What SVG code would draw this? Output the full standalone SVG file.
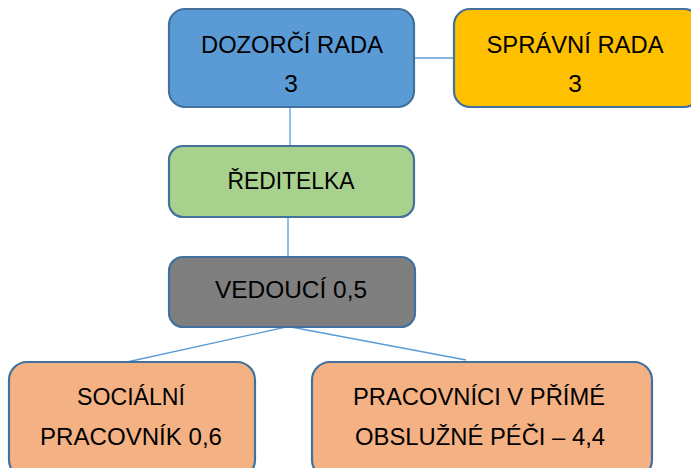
<svg xmlns="http://www.w3.org/2000/svg" width="691" height="468" viewBox="0 0 691 468">
<style>
.box{stroke:#41719C;stroke-width:2.2}
.t{font-family:"Liberation Sans",Arial,sans-serif;font-size:24.5px;fill:#000;text-anchor:middle}
.c{stroke:#5B9BD5;stroke-width:1.3;fill:none}
</style>
<rect width="691" height="468" fill="#fff"/>
<g id="connectors">
<line class="c" x1="414" y1="58" x2="453" y2="58"/>
<line class="c" x1="290" y1="107" x2="290" y2="146"/>
<line class="c" x1="288" y1="217" x2="288" y2="257"/>
<line class="c" x1="286" y1="327" x2="127" y2="362"/>
<line class="c" x1="291" y1="327" x2="466" y2="360"/>
</g>
<g id="dozorci">
<rect class="box" x="169" y="9" width="245" height="98" rx="16" fill="#5B9BD5"/>
<text class="t" x="292" y="53" textLength="182" lengthAdjust="spacingAndGlyphs">DOZORČÍ RADA</text>
<text class="t" x="291" y="92">3</text>
</g>
<g id="spravni">
<rect class="box" x="454" y="9" width="246" height="98" rx="16" fill="#FFC000"/>
<text class="t" x="575" y="53" textLength="177" lengthAdjust="spacingAndGlyphs">SPRÁVNÍ RADA</text>
<text class="t" x="575" y="92">3</text>
</g>
<g id="reditelka">
<rect class="box" x="169" y="146" width="245" height="71" rx="14" fill="#A9D18E"/>
<text class="t" x="291" y="189" textLength="127" lengthAdjust="spacingAndGlyphs">ŘEDITELKA</text>
</g>
<g id="vedouci">
<rect class="box" x="169" y="257" width="246" height="70" rx="14" fill="#7F7F7F"/>
<text class="t" x="291" y="298" textLength="152" lengthAdjust="spacingAndGlyphs">VEDOUCÍ 0,5</text>
</g>
<g id="socialni">
<rect class="box" x="9" y="362" width="246" height="116" rx="18" fill="#F4B183"/>
<text class="t" x="131" y="405" textLength="108" lengthAdjust="spacingAndGlyphs">SOCIÁLNÍ</text>
<text class="t" x="131" y="445" textLength="182" lengthAdjust="spacingAndGlyphs">PRACOVNÍK 0,6</text>
</g>
<g id="pracovnici">
<rect class="box" x="312" y="362" width="340" height="116" rx="18" fill="#F4B183"/>
<text class="t" x="479" y="405" textLength="252" lengthAdjust="spacingAndGlyphs">PRACOVNÍCI V PŘÍMÉ</text>
<text class="t" x="480" y="445" textLength="250" lengthAdjust="spacingAndGlyphs">OBSLUŽNÉ PÉČI – 4,4</text>
</g>
</svg>
